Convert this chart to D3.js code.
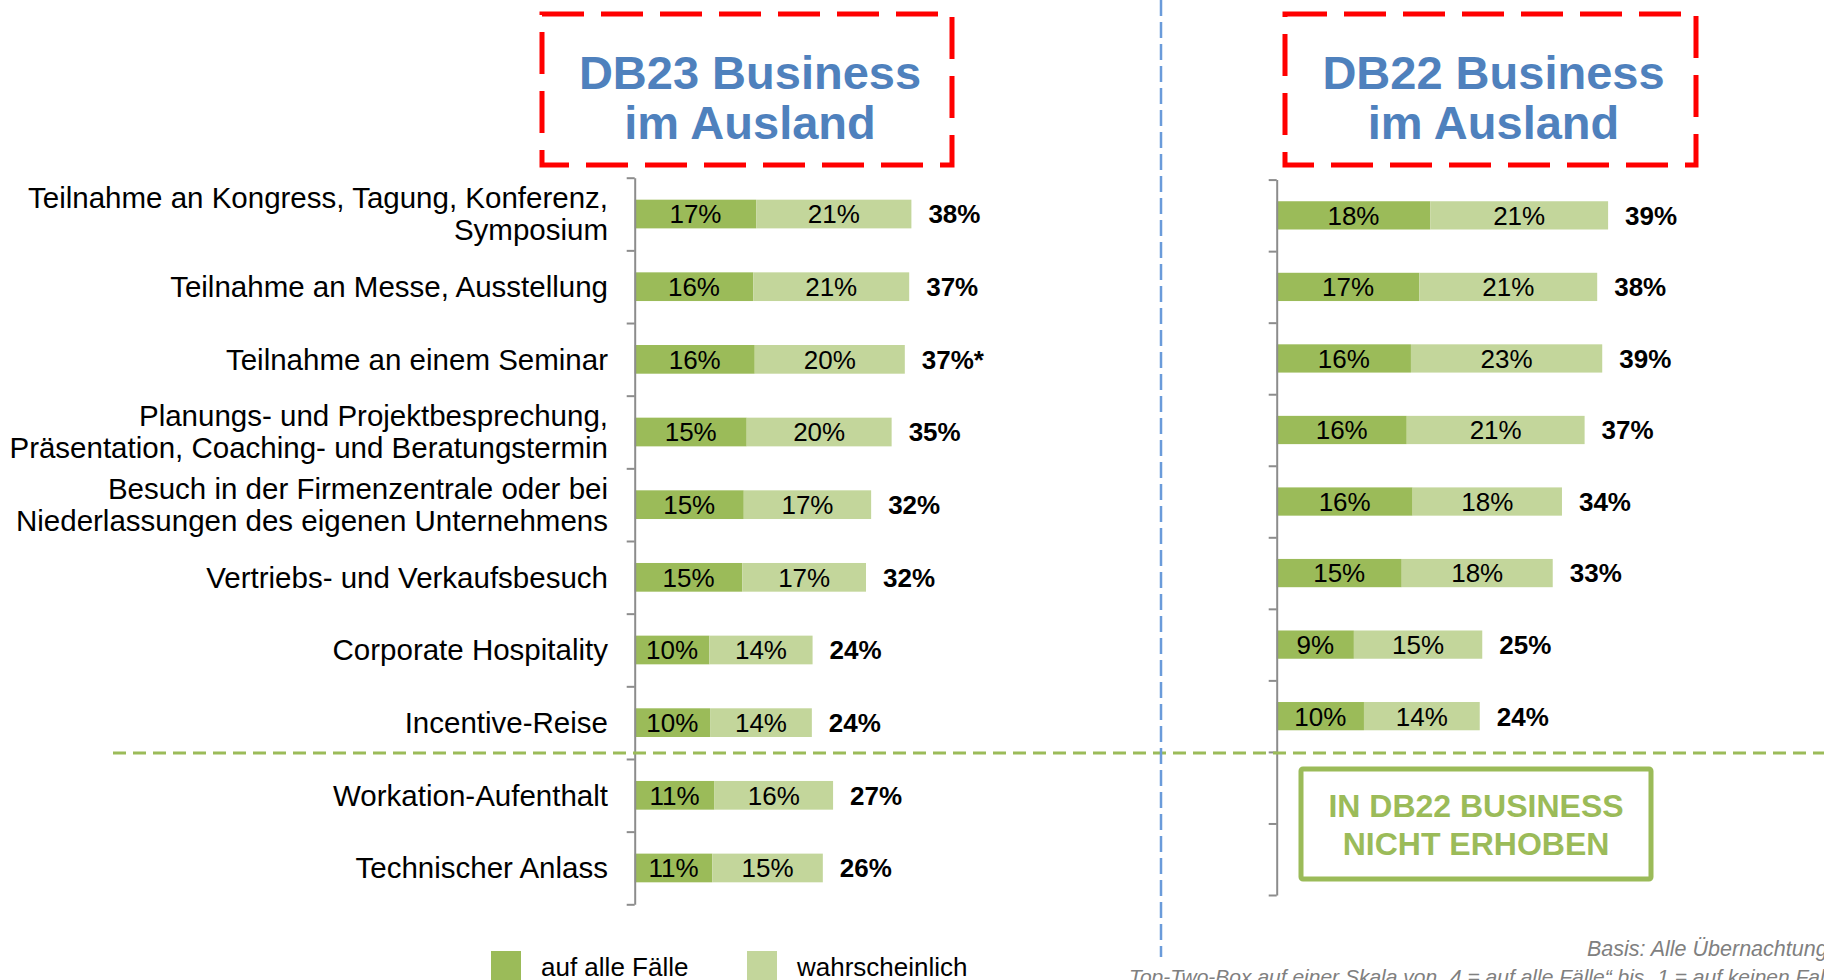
<!DOCTYPE html>
<html>
<head>
<meta charset="utf-8">
<script src="https://cdn.jsdelivr.net/npm/d3@7"></script>
<style>
  body { margin: 0; background: #fff; }
  svg { display: block; font-family: Arial, "Liberation Sans", sans-serif; }
</style>
</head>
<body>
<svg width="1824" height="980"></svg>
<script>
// categories, top to bottom
var categories = [
  'Teilnahme an Kongress, Tagung, Konferenz,\nSymposium',
  'Teilnahme an Messe, Ausstellung',
  'Teilnahme an einem Seminar',
  'Planungs- und Projektbesprechung,\nPräsentation, Coaching- und Beratungstermin',
  'Besuch in der Firmenzentrale oder bei\nNiederlassungen des eigenen Unternehmens',
  'Vertriebs- und Verkaufsbesuch',
  'Corporate Hospitality',
  'Incentive-Reise',
  'Workation-Aufenthalt',
  'Technischer Anlass'
];

// DB23 (left)
var db23Sicher = [16.6, 16.2, 16.4, 15.3, 14.9, 14.7, 10.2, 10.3, 10.9, 10.6];
var db23Wahrsch = [21.2, 21.3, 20.5, 19.8, 17.4, 16.9, 14.1, 13.9, 16.2, 15.1];
var db23SicherLbl = ['17%', '16%', '16%', '15%', '15%', '15%', '10%', '10%', '11%', '11%'];
var db23WahrschLbl = ['21%', '21%', '20%', '20%', '17%', '17%', '14%', '14%', '16%', '15%'];
var db23TotalLbl = ['38%', '37%', '37%*', '35%', '32%', '32%', '24%', '24%', '27%', '26%'];

// DB22 (right), last two not surveyed
var db22Sicher = [18.3, 17.0, 16.0, 15.5, 16.2, 14.9, 9.2, 10.4];
var db22Wahrsch = [21.2, 21.2, 22.8, 21.2, 17.8, 18.0, 15.3, 13.8];
var db22SicherLbl = ['18%', '17%', '16%', '16%', '16%', '15%', '9%', '10%'];
var db22WahrschLbl = ['21%', '21%', '23%', '21%', '18%', '18%', '15%', '14%'];
var db22TotalLbl = ['39%', '38%', '39%', '37%', '34%', '33%', '25%', '24%'];

var legendItems = ['auf alle Fälle', 'wahrscheinlich'];

var DARK = '#9BBB59', LIGHT = '#C3D69B', AXIS = '#8C8C8C';

var svg = d3.select('svg');

// scales
var yLeft = d3.scaleBand().domain(d3.range(categories.length))
  .range([177.7, 904.3]).paddingInner(0.605).paddingOuter(0.3025);
var yRight = d3.scaleBand().domain(d3.range(categories.length))
  .range([179.6, 895]).paddingInner(0.605).paddingOuter(0.3025);
var xLeft = d3.scaleLinear().domain([0, 40]).range([634.7, 634.7 + 40 * 7.32]);
var xRight = d3.scaleLinear().domain([0, 40]).range([1276.7, 1276.7 + 40 * 8.39]);

// axis with ticks between categories
var drawAxis = function(x0, y) {
  var edges = d3.scaleLinear().domain([0, categories.length]).range(y.range());
  var g = svg.append('g')
    .attr('transform', 'translate(' + x0 + ',0)')
    .call(d3.axisLeft(edges).tickValues(d3.range(categories.length + 1))
      .tickFormat('').tickSize(8).tickSizeOuter(0));
  g.select('.domain').attr('stroke', AXIS).attr('stroke-width', 2);
  g.selectAll('.tick line').attr('stroke', AXIS).attr('stroke-width', 2);
};

var drawPanel = function(x, y, sicher, wahrsch, lS, lW, lT) {
  var rows = d3.range(sicher.length);
  var g = svg.append('g');

  g.selectAll('rect.dark').data(rows).enter()
    .append('rect')
      .attr('class', 'dark')
      .attr('x', x(0))
      .attr('y', function(i){ return y(i); })
      .attr('width', function(i){ return x(sicher[i]) - x(0); })
      .attr('height', y.bandwidth())
      .attr('fill', DARK);

  g.selectAll('rect.light').data(rows).enter()
    .append('rect')
      .attr('class', 'light')
      .attr('x', function(i){ return x(sicher[i]); })
      .attr('y', function(i){ return y(i); })
      .attr('width', function(i){ return x(sicher[i] + wahrsch[i]) - x(sicher[i]); })
      .attr('height', y.bandwidth())
      .attr('fill', LIGHT);

  g.selectAll('text.ls').data(rows).enter()
    .append('text')
      .attr('x', function(i){ return (x(0) + x(sicher[i])) / 2; })
      .attr('y', function(i){ return y(i) + y.bandwidth() / 2; })
      .attr('dy', '0.36em')
      .attr('text-anchor', 'middle')
      .attr('font-size', 26)
      .text(function(i){ return lS[i]; });

  g.selectAll('text.lw').data(rows).enter()
    .append('text')
      .attr('x', function(i){ return (x(sicher[i]) + x(sicher[i] + wahrsch[i])) / 2; })
      .attr('y', function(i){ return y(i) + y.bandwidth() / 2; })
      .attr('dy', '0.36em')
      .attr('text-anchor', 'middle')
      .attr('font-size', 26)
      .text(function(i){ return lW[i]; });

  g.selectAll('text.lt').data(rows).enter()
    .append('text')
      .attr('x', function(i){ return x(sicher[i] + wahrsch[i]) + 17; })
      .attr('y', function(i){ return y(i) + y.bandwidth() / 2; })
      .attr('dy', '0.36em')
      .attr('font-size', 26)
      .attr('font-weight', 'bold')
      .text(function(i){ return lT[i]; });
};

drawPanel(xLeft, yLeft, db23Sicher, db23Wahrsch, db23SicherLbl, db23WahrschLbl, db23TotalLbl);
drawPanel(xRight, yRight, db22Sicher, db22Wahrsch, db22SicherLbl, db22WahrschLbl, db22TotalLbl);
drawAxis(xLeft(0), yLeft);
drawAxis(xRight(0), yRight);

// category labels
var catText = svg.append('g').selectAll('text').data(categories).enter()
  .append('text')
    .attr('text-anchor', 'end')
    .attr('font-size', 29.5)
    .attr('fill', '#000');
catText.each(function(d, i){
  var lines = d.split('\n');
  var cy = yLeft(i) + yLeft.bandwidth() / 2;
  var lh = 32;
  var t = d3.select(this);
  lines.forEach(function(line, k){
    t.append('tspan')
      .attr('x', 608)
      .attr('y', cy + (k - (lines.length - 1) / 2) * lh)
      .attr('dy', '0.35em')
      .text(line);
  });
});

// separator lines
svg.append('line')
  .attr('x1', 113).attr('x2', 1824).attr('y1', 753).attr('y2', 753)
  .attr('stroke', DARK).attr('stroke-width', 3).attr('stroke-dasharray', '13,7');
svg.append('line')
  .attr('x1', 1161).attr('x2', 1161).attr('y1', 0).attr('y2', 957)
  .attr('stroke', '#6A9BDA').attr('stroke-width', 2.5).attr('stroke-dasharray', '16,6');

// title boxes
var titles = [
  { x: 542, w: 410, lines: ['DB23 Business', 'im Ausland'] },
  { x: 1285, w: 411, lines: ['DB22 Business', 'im Ausland'] }
];
titles.forEach(function(t){
  svg.append('rect')
    .attr('x', t.x).attr('y', 14).attr('width', t.w).attr('height', 151)
    .attr('fill', 'none').attr('stroke', '#FF0000').attr('stroke-width', 5)
    .attr('stroke-dasharray', '42,17');
  t.lines.forEach(function(line, k){
    svg.append('text')
      .attr('x', t.x + t.w / 2 + 3).attr('y', 89 + k * 50)
      .attr('text-anchor', 'middle')
      .attr('font-size', 47).attr('font-weight', 'bold')
      .attr('fill', '#4F81BD')
      .text(line);
  });
});

// "not surveyed" box
svg.append('rect')
  .attr('x', 1301).attr('y', 769).attr('width', 350).attr('height', 110).attr('rx', 2)
  .attr('fill', 'none').attr('stroke', DARK).attr('stroke-width', 5);
['IN DB22 BUSINESS', 'NICHT ERHOBEN'].forEach(function(line, k){
  svg.append('text')
    .attr('x', 1476).attr('y', 817 + k * 38)
    .attr('text-anchor', 'middle')
    .attr('font-size', 32).attr('font-weight', 'bold')
    .attr('fill', DARK)
    .text(line);
});

// legend
var legX = [491, 747];
var legend = svg.append('g').selectAll('g').data(legendItems).enter()
  .append('g')
    .attr('transform', function(d, i){ return 'translate(' + legX[i] + ',951)'; });
legend.append('rect')
  .attr('width', 30).attr('height', 30)
  .attr('fill', function(d, i){ return i === 0 ? DARK : LIGHT; });
legend.append('text')
  .attr('x', 50).attr('y', 25)
  .attr('font-size', 26)
  .text(function(d){ return d; });

// footnotes (cut by the page edge, as in the source)
svg.append('text')
  .attr('x', 1587).attr('y', 956)
  .attr('font-size', 21.5).attr('font-style', 'italic').attr('fill', '#808080')
  .text('Basis: Alle Übernachtungsgäste');
svg.append('text')
  .attr('x', 1129).attr('y', 984)
  .attr('font-size', 21).attr('font-style', 'italic').attr('fill', '#808080')
  .text('Top-Two-Box auf einer Skala von „4 = auf alle Fälle“ bis „1 = auf keinen Fall“');
</script>
</body>
</html>
